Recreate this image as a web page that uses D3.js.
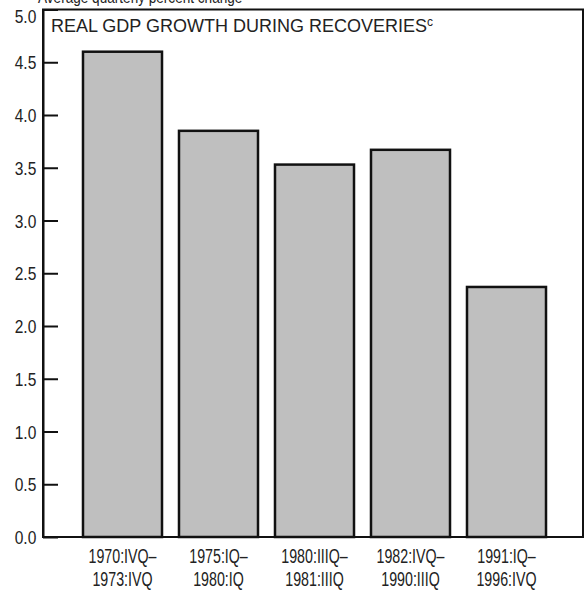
<!DOCTYPE html>
<html>
<head>
<meta charset="utf-8">
<script src="https://cdn.jsdelivr.net/npm/d3@7"></script>
<style>
  html, body { margin: 0; padding: 0; background: #fff; }
  svg { display: block; }
  .cond { font-family: "Liberation Sans", Arial, Helvetica, sans-serif; fill: #222; }
  .title { font-family: "Liberation Sans", Arial, Helvetica, sans-serif; fill: #222; }
</style>
</head>
<body>
<svg id="chart" width="584" height="591"></svg>
<script>
// Recovery periods (two-line labels) and average quarterly real GDP growth, percent
const periodStart = ["1970:IVQ\u2013", "1975:IQ\u2013", "1980:IIIQ\u2013", "1982:IVQ\u2013", "1991:IQ\u2013"];
const periodEnd   = ["1973:IVQ", "1980:IQ", "1981:IIIQ", "1990:IIIQ", "1996:IVQ"];
const growth      = [4.6, 3.85, 3.53, 3.67, 2.37];
const yTicks      = [0, 0.5, 1, 1.5, 2, 2.5, 3, 3.5, 4, 4.5, 5];

const svg = d3.select("#chart");

const plotLeft = 43, plotRight = 583, plotTop = 9.5, plotBottom = 537;

const periods = periodStart.map((_, i) => i);

const x = d3.scaleBand()
  .domain(periods)
  .range([74.5, 554.5])
  .paddingInner(0.177)
  .paddingOuter(0.0885);

const y = d3.scaleLinear()
  .domain([0, 5])
  .range([plotBottom, plotTop]);

// Units line running off the top edge
svg.append("text")
  .attr("class", "cond")
  .attr("transform", "translate(38,3) scale(0.8,1)")
  .attr("font-size", 17)
  .text("Average quarterly percent change");

// Bars
svg.append("g")
  .selectAll("rect")
  .data(growth)
  .join("rect")
  .attr("x", (d, i) => x(i))
  .attr("y", d => y(d))
  .attr("width", x.bandwidth())
  .attr("height", d => y(0) - y(d))
  .attr("fill", "#bfbfbf")
  .attr("stroke", "#111")
  .attr("stroke-width", 2.5);

// Frame
svg.append("rect")
  .attr("x", plotLeft)
  .attr("y", plotTop)
  .attr("width", plotRight - plotLeft)
  .attr("height", plotBottom - plotTop)
  .attr("fill", "none")
  .attr("stroke", "#111")
  .attr("stroke-width", 2);

// Y axis, ticks pointing inward
const yAxis = svg.append("g")
  .attr("transform", `translate(${plotLeft},0)`)
  .call(d3.axisLeft(y)
    .tickValues(yTicks)
    .tickFormat(d3.format(".1f"))
    .tickSizeInner(-15)
    .tickSizeOuter(0)
    .tickPadding(8));
yAxis.select(".domain").attr("stroke", "#111").attr("stroke-width", 2);
yAxis.selectAll(".tick line").attr("stroke", "#111").attr("stroke-width", 2);
yAxis.selectAll(".tick text")
  .attr("class", "cond")
  .attr("font-family", null)
  .attr("font-size", 18.5)
  .attr("fill", "#222")
  .attr("dy", d => d === 5 ? "0.72em" : "0.36em")
  .attr("transform", "scale(0.84,1)");

// Period labels under the bars
const labels = svg.append("g")
  .selectAll("g")
  .data(periods)
  .join("g")
  .attr("transform", i => `translate(${x(i) + x.bandwidth() / 2},0)`);
labels.append("text")
  .attr("class", "cond")
  .attr("font-size", 19.5)
  .attr("text-anchor", "middle")
  .attr("transform", "translate(0,563) scale(0.73,1)")
  .text(i => periodStart[i]);
labels.append("text")
  .attr("class", "cond")
  .attr("font-size", 19.5)
  .attr("text-anchor", "middle")
  .attr("transform", "translate(0,586) scale(0.73,1)")
  .text(i => periodEnd[i]);

// Panel title with note marker
const title = svg.append("text")
  .attr("class", "title")
  .attr("x", 51)
  .attr("y", 32)
  .attr("font-size", 18)
  .text("REAL GDP GROWTH DURING RECOVERIES");
title.append("tspan")
  .attr("font-size", 12)
  .attr("dy", -6)
  .text("c");
</script>
</body>
</html>
